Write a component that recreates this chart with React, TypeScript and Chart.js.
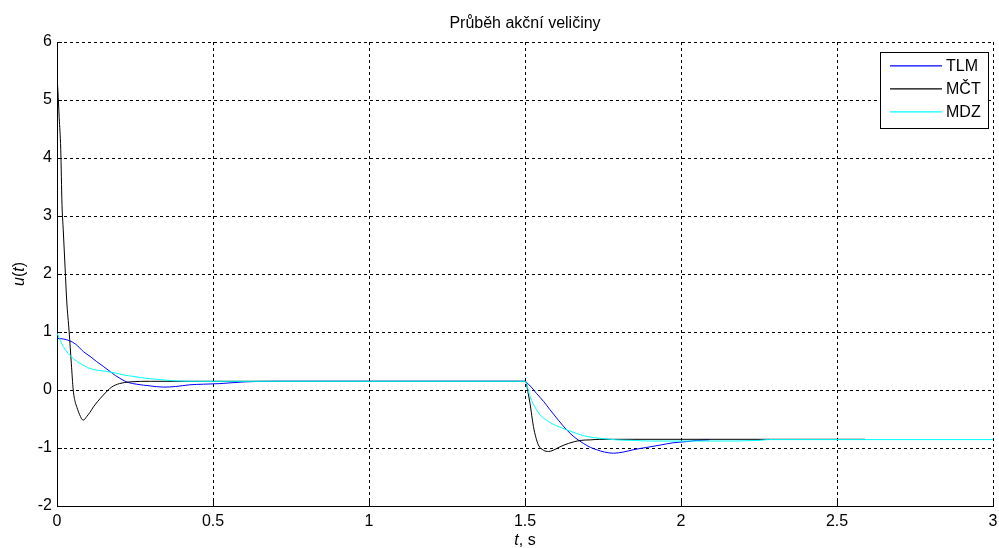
import { useEffect, useRef } from "react";
import { Chart, registerables } from "chart.js";

Chart.register(...registerables);

// Control signal u(t) for three controller designs
const TITLE = "Průběh akční veličiny";
const X_LABEL = [["t", true], [", s", false]] as [string, boolean][];
const Y_LABEL = [["u", true], ["(", false], ["t", true], [")", false]] as [string, boolean][];
const X_TICKS = [0, 0.5, 1, 1.5, 2, 2.5, 3];
const Y_TICKS = [-2, -1, 0, 1, 2, 3, 4, 5, 6];

const SERIES_NAMES = ["TLM", "MČT", "MDZ"];
const SERIES_COLORS = ["#0000ff", "#000000", "#00ffff"];

const tlmT = [0, 0.02, 0.04, 0.06, 0.085, 0.106, 0.127, 0.15, 0.17, 0.187, 0.202, 0.215, 0.228, 0.255, 0.3, 0.34, 0.38, 0.426, 0.47, 0.522, 0.6, 0.7, 1.5, 1.503, 1.52, 1.537, 1.56, 1.58, 1.607, 1.634, 1.66, 1.687, 1.71, 1.73, 1.755, 1.783, 1.815, 1.847, 1.89, 1.933, 1.975, 2.018, 2.05, 2.09];
const tlmU = [0.89, 0.88, 0.85, 0.79, 0.66, 0.58, 0.49, 0.4, 0.32, 0.25, 0.2, 0.16, 0.13, 0.1, 0.07, 0.05, 0.06, 0.09, 0.1, 0.11, 0.14, 0.15, 0.15, 0.14, 0.05, -0.06, -0.2, -0.34, -0.52, -0.69, -0.82, -0.92, -0.99, -1.03, -1.07, -1.09, -1.07, -1.03, -0.99, -0.95, -0.91, -0.89, -0.87, -0.86];

const mctT = [0, 0.003, 0.007, 0.012, 0.016, 0.02, 0.026, 0.031, 0.039, 0.046, 0.052, 0.058, 0.064, 0.072, 0.084, 0.095, 0.105, 0.117, 0.13, 0.148, 0.175, 0.2, 0.234, 0.3, 1.5, 1.503, 1.51, 1.516, 1.527, 1.535, 1.543, 1.56, 1.575, 1.59, 1.612, 1.64, 1.676, 1.71, 1.74, 2.59];
const mctU = [5.4, 5.15, 4.7, 4.15, 3.2, 2.76, 2.1, 1.55, 1.0, 0.45, 0.0, -0.2, -0.3, -0.42, -0.52, -0.46, -0.39, -0.29, -0.2, -0.09, 0.05, 0.11, 0.14, 0.15, 0.15, 0.14, -0.05, -0.23, -0.63, -0.82, -0.95, -1.04, -1.06, -1.04, -0.98, -0.92, -0.87, -0.86, -0.85, -0.85];

const mdzT = [0, 0.01, 0.02, 0.03, 0.041, 0.057, 0.074, 0.09, 0.106, 0.13, 0.16, 0.19, 0.213, 0.25, 0.288, 0.33, 0.373, 0.45, 1.5, 1.503, 1.516, 1.537, 1.55, 1.569, 1.59, 1.612, 1.64, 1.666, 1.69, 1.719, 1.755, 1.794, 1.85, 1.9, 2.0, 2.1, 2.25, 2.28, 3.0];
const mdzU = [0.98, 0.86, 0.75, 0.67, 0.6, 0.52, 0.46, 0.41, 0.37, 0.34, 0.32, 0.29, 0.26, 0.23, 0.2, 0.18, 0.16, 0.15, 0.15, 0.14, -0.11, -0.34, -0.44, -0.52, -0.59, -0.64, -0.7, -0.75, -0.79, -0.82, -0.84, -0.86, -0.87, -0.88, -0.88, -0.88, -0.87, -0.855, -0.855];

const SERIES_T = [tlmT, mctT, mdzT];
const SERIES_U = [tlmU, mctU, mdzU];

const FONT = '"Liberation Sans", Arial, Helvetica, sans-serif';
const FONT_SIZE = 16;

function drawParts(ctx: CanvasRenderingContext2D, parts: [string, boolean][], cx: number, y: number) {
  const widths = parts.map(([s, it]) => {
    ctx.font = `${it ? "italic " : ""}${FONT_SIZE}px ${FONT}`;
    return ctx.measureText(s).width;
  });
  const total = widths.reduce((a, b) => a + b, 0);
  let x = cx - total / 2;
  ctx.textAlign = "left";
  parts.forEach(([s, it], i) => {
    ctx.font = `${it ? "italic " : ""}${FONT_SIZE}px ${FONT}`;
    ctx.fillText(s, x, y);
    x += widths[i];
  });
}

const decorPlugin = {
  id: "decor",
  beforeDraw(chart: any) {
    const { ctx, width, height } = chart;
    ctx.save();
    ctx.fillStyle = "#ffffff";
    ctx.fillRect(0, 0, width, height);
    ctx.restore();
  },
  afterDraw(chart: any) {
    const { ctx, chartArea: a, scales } = chart;
    ctx.save();
    ctx.strokeStyle = "#000";
    ctx.lineWidth = 1;
    ctx.setLineDash([]);
    // inward tick marks on the left and bottom axes
    ctx.beginPath();
    X_TICKS.forEach((v) => {
      const px = Math.round(scales.x.getPixelForValue(v)) + 0.5;
      ctx.moveTo(px, a.bottom);
      ctx.lineTo(px, a.bottom - 5);
    });
    Y_TICKS.forEach((v) => {
      const py = Math.round(scales.y.getPixelForValue(v)) + 0.5;
      ctx.moveTo(a.left, py);
      ctx.lineTo(a.left + 5, py);
    });
    ctx.stroke();

    ctx.fillStyle = "#000";
    ctx.textBaseline = "alphabetic";
    // title
    ctx.font = `${FONT_SIZE}px ${FONT}`;
    ctx.textAlign = "center";
    ctx.fillText(TITLE, (a.left + a.right) / 2, 28);
    // x axis label
    drawParts(ctx, X_LABEL, (a.left + a.right) / 2, 545);
    // y axis label
    ctx.save();
    ctx.translate(24, (a.top + a.bottom) / 2);
    ctx.rotate(-Math.PI / 2);
    drawParts(ctx, Y_LABEL, 0, 0);
    ctx.restore();

    // legend
    const bx = 880.5, by = 52.5, bw = 108, bh = 76;
    ctx.fillStyle = "#fff";
    ctx.fillRect(bx, by, bw, bh);
    ctx.strokeStyle = "#000";
    ctx.strokeRect(bx, by, bw, bh);
    const rows = [65.8, 88.8, 111.8];
    ctx.font = `${FONT_SIZE}px ${FONT}`;
    ctx.textAlign = "left";
    ctx.textBaseline = "middle";
    SERIES_NAMES.forEach((name, i) => {
      ctx.beginPath();
      ctx.strokeStyle = SERIES_COLORS[i];
      ctx.lineWidth = 1.2;
      ctx.moveTo(890, rows[i]);
      ctx.lineTo(942, rows[i]);
      ctx.stroke();
      ctx.fillStyle = "#000";
      ctx.fillText(name, 946, rows[i] + 1);
    });
    ctx.restore();
  },
};

export default function App() {
  const canvasRef = useRef<HTMLCanvasElement | null>(null);

  useEffect(() => {
    const canvas = canvasRef.current;
    if (!canvas) return;
    const datasets = SERIES_NAMES.map((name, i) => ({
      label: name,
      data: SERIES_T[i].map((t, j) => ({ x: t, y: SERIES_U[i][j] })),
      borderColor: SERIES_COLORS[i],
      backgroundColor: SERIES_COLORS[i],
      borderWidth: 1,
      pointRadius: 0,
      fill: false,
      cubicInterpolationMode: "monotone" as const,
      order: 3 - i,
    }));

    const chart = new Chart(canvas, {
      type: "line",
      data: { datasets },
      options: {
        animation: false,
        responsive: false,
        maintainAspectRatio: false,
        layout: { padding: { top: 42, right: 6, left: 0, bottom: 0 } },
        plugins: {
          legend: { display: false },
          title: { display: false },
          tooltip: { enabled: false },
        },
        scales: {
          x: {
            type: "linear",
            min: 0,
            max: 3,
            afterFit: (s: any) => {
              s.height = 42;
              s.paddingLeft = 0;
              s.paddingRight = 0;
            },
            afterBuildTicks: (s: any) => {
              s.ticks = X_TICKS.map((v) => ({ value: v }));
            },
            ticks: {
              color: "#000",
              padding: 6,
              maxRotation: 0,
              font: { family: FONT, size: FONT_SIZE },
              callback: (v: any) => String(Number(v)),
            },
            grid: { color: "#000", lineWidth: 1, drawTicks: false },
            border: { display: true, color: "#000", width: 1, dash: [3, 3] },
          },
          y: {
            type: "linear",
            min: -2,
            max: 6,
            afterFit: (s: any) => {
              s.width = 57;
              s.paddingTop = 0;
              s.paddingBottom = 0;
            },
            afterBuildTicks: (s: any) => {
              s.ticks = Y_TICKS.map((v) => ({ value: v }));
            },
            ticks: {
              color: "#000",
              padding: 5,
              font: { family: FONT, size: FONT_SIZE },
              callback: (v: any) => String(Number(v)),
            },
            grid: { color: "#000", lineWidth: 1, drawTicks: false },
            border: { display: true, color: "#000", width: 1, dash: [3, 3] },
          },
        },
      },
      plugins: [decorPlugin],
    });
    return () => chart.destroy();
  }, []);

  return (
    <div style={{ position: "absolute", left: 0, top: 0, width: 999, height: 548 }}>
      <canvas ref={canvasRef} width={999} height={548} style={{ display: "block" }} />
    </div>
  );
}
